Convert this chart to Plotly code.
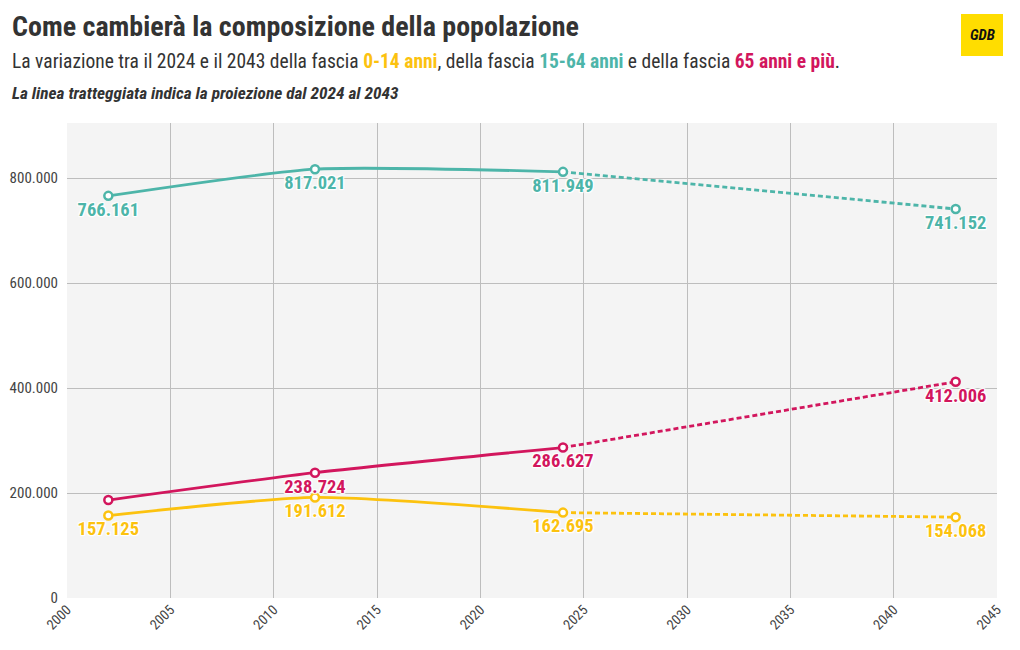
import plotly.graph_objects as go

years = [2002, 2012, 2024, 2043]
age_0_14 = [157125, 191612, 162695, 154068]
age_15_64 = [766161, 817021, 811949, 741152]
age_65_plus = [186600, 238724, 286627, 412006]
labels_0_14 = ["157.125", "191.612", "162.695", "154.068"]
labels_15_64 = ["766.161", "817.021", "811.949", "741.152"]
labels_65_plus = ["", "238.724", "286.627", "412.006"]

YELLOW = "#fcc20f"
TEAL = "#4db5a9"
RED = "#d2165d"
FONT = "Roboto Condensed, Liberation Sans Narrow, Roboto, sans-serif"
HALO = "white 1px 1px 1px, white -1px -1px 1px, white 1px -1px 1px, white -1px 1px 1px, white 0px 0px 3px"

series = [
    (age_0_14, labels_0_14, YELLOW),
    (age_15_64, labels_15_64, TEAL),
    (age_65_plus, labels_65_plus, RED),
]

fig = go.Figure()
for vals, labs, col in series:
    fig.add_trace(go.Scatter(x=years[:3], y=vals[:3], mode="lines",
                             line=dict(color=col, width=2.8, shape="spline", smoothing=0.6),
                             hoverinfo="skip", showlegend=False))
    fig.add_trace(go.Scatter(x=years[2:], y=vals[2:], mode="lines",
                             line=dict(color=col, width=2.8, dash="5px,3px"),
                             hoverinfo="skip", showlegend=False))
for vals, labs, col in series:
    fig.add_trace(go.Scatter(x=years, y=vals, mode="markers+text", text=labs,
                             textposition="bottom center",
                             textfont=dict(family=FONT, size=18.5, color=col, weight="bold", shadow=HALO),
                             marker=dict(size=8, color="white", line=dict(color=col, width=2.5)),
                             hoverinfo="skip", showlegend=False))

# page offset of the figure (body margin)
OFF = 8
W, H = 1012, 642
L, T = 67 - OFF, 123 - OFF
R = W - (997 - OFF)
B = H - (598 - OFF)
pw, ph = W - L - R, H - T - B

def px(x):
    return (x - OFF - L) / pw

def py(y):
    return (H - B - (y - OFF)) / ph

annotations = [
    dict(text="<b>Come cambierà la composizione della popolazione</b>", x=px(10), y=py(27),
         xanchor="left", yanchor="middle", font=dict(family=FONT, size=28, color="#333333")),
    dict(text=("La variazione tra il 2024 e il 2043 della fascia "
               f"<b><span style='color:{YELLOW}'>0-14 anni</span></b>, della fascia "
               f"<b><span style='color:{TEAL}'>15-64 anni</span></b> e della fascia "
               f"<b><span style='color:{RED}'>65 anni e più</span></b>."),
         x=px(10), y=py(61), xanchor="left", yanchor="middle",
         font=dict(family=FONT, size=19.5, color="#333333")),
    dict(text="<b><i>La linea tratteggiata indica la proiezione dal 2024 al 2043</i></b>",
         x=px(10), y=py(93), xanchor="left", yanchor="middle",
         font=dict(family=FONT, size=17.3, color="#333333")),
    dict(text="<b><i>GDB</i></b>", x=px(982), y=py(35), xanchor="center", yanchor="middle",
         font=dict(family=FONT, size=15, color="#111111")),
]
for a in annotations:
    a.update(xref="paper", yref="paper", showarrow=False)

fig.update_layout(
    width=W, height=H,
    margin=dict(l=L, r=R, t=T, b=B, autoexpand=False),
    paper_bgcolor="white", plot_bgcolor="#f4f4f4",
    separators=",.",
    font=dict(family=FONT, color="#444444"),
    annotations=annotations,
    shapes=[dict(type="rect", xref="paper", yref="paper",
                 x0=px(961), x1=px(1003), y0=py(56), y1=py(14),
                 fillcolor="#ffdd00", line=dict(width=0), layer="above")],
    xaxis=dict(range=[2000, 2045], dtick=5, tick0=2000, tickangle=-45,
               showgrid=True, gridcolor="#bdbdbd", gridwidth=1, zeroline=False,
               showline=False, ticks="", tickfont=dict(size=14, color="#444444")),
    yaxis=dict(range=[0, 905000], dtick=200000, tickformat=",d",
               showgrid=True, gridcolor="#bdbdbd", gridwidth=1, zeroline=False,
               showline=False, ticks="", ticklabelstandoff=8,
               tickfont=dict(size=15, color="#444444")),
)

fig.write_html("out.html")
